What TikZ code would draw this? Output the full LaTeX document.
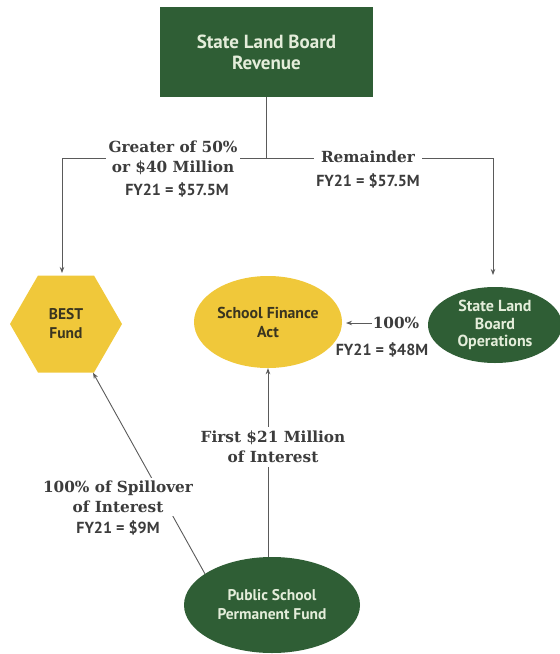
\documentclass[tikz,border=0pt]{standalone}
\usepackage{fontspec}
\setmainfont{PT Sans}
\newfontfamily\slabfont{DejaVu Serif}
\usetikzlibrary{arrows.meta,shapes.geometric}
\definecolor{slbgreen}{HTML}{2F5E35}
\definecolor{greentext}{HTML}{E4EDDA}
\definecolor{slbyellow}{HTML}{F0C83A}
\definecolor{yellowtext}{HTML}{3A3520}
\definecolor{lnk}{HTML}{5A5A5A}
\definecolor{lbl}{HTML}{3C3C3C}
\begin{document}
\begin{tikzpicture}[x=1pt,y=-1pt,
  greenfill/.style={fill=slbgreen,text=greentext,align=center,
    font=\bfseries\fontsize{15.5}{19}\selectfont,inner sep=0pt},
  yellowfill/.style={fill=slbyellow,text=yellowtext,align=center,
    font=\bfseries\fontsize{15.5}{19}\selectfont,inner sep=0pt},
  slablabel/.style={fill=white,text=lbl,align=center,
    font=\slabfont\bfseries\fontsize{15.3}{20}\selectfont,inner sep=3pt},
  fylabel/.style={text=lbl,font=\bfseries\fontsize{16}{18}\selectfont,inner sep=1pt},
  link/.style={draw=lnk,line width=0.9pt},
  arrowlink/.style={link,-{Stealth[length=6pt,width=4.5pt]}}
]
\useasboundingbox (0,0) rectangle (560,654);

% nodes
\node[greenfill,minimum width=213pt,minimum height=90pt,font=\bfseries\fontsize{19}{21}\selectfont] (rev) at (266.5,52) {State Land Board\\Revenue};
\node[yellowfill,regular polygon,regular polygon sides=6,minimum size=112pt] (best) at (66,324) {BEST\\Fund};
\node[yellowfill,ellipse,minimum width=148pt,minimum height=92pt,font=\bfseries\fontsize{15.8}{19}\selectfont] (sfa) at (268,322) {School Finance\\Act};
\node[greenfill,ellipse,minimum width=134pt,minimum height=76pt,font=\bfseries\fontsize{16}{17.5}\selectfont] (ops) at (495,325) {State Land\\Board\\Operations};
\node[greenfill,ellipse,minimum width=176pt,minimum height=96pt] (pspf) at (272,605) {Public School\\Permanent Fund};

% split connectors
\coordinate (split) at (266,158);
\coordinate (lcorner) at (62,158);
\coordinate (rcorner) at (493,158);
\coordinate (besttip) at (62,273);
\coordinate (opstip) at (493,275);
\draw[link] (rev.south -| split) -- (split);
\draw[arrowlink] (split) -- (lcorner) -- (besttip);
\draw[arrowlink] (split) -- (rcorner) -- (opstip);

% operations to school finance
\coordinate (pcttip) at (346,323);
\node[slablabel,fill=none,inner sep=1pt] (pct) at (396,323) {100\%};
\draw[arrowlink] (pct.west) -- (pcttip);
\node[fylabel] (fy48) at (382,350) {FY21 = \$48M};

% permanent fund connectors
\draw[arrowlink] (pspf.north -| sfa.south) -- (sfa.south);
\draw[arrowlink] (pspf.155) -- (best.-61.5);

% labels on split
\node[slablabel] (greater) at (173,158) {Greater of 50\%\\or \$40 Million};
\node[fylabel] (fyl) at (177,190) {FY21 = \$57.5M};
\node[slablabel,inner xsep=7pt] (rem) at (368,157) {Remainder};
\node[fylabel] (fyr) at (368,181) {FY21 = \$57.5M};

% labels on fund links
\node[slablabel,inner sep=4pt] (first) at (273,447) {First \$21 Million\\of Interest};
\node[slablabel] (spill) at (118,497) {100\% of Spillover\\of Interest};
\node[fylabel] (fy9) at (118,528) {FY21 = \$9M};
\end{tikzpicture}
\end{document}
